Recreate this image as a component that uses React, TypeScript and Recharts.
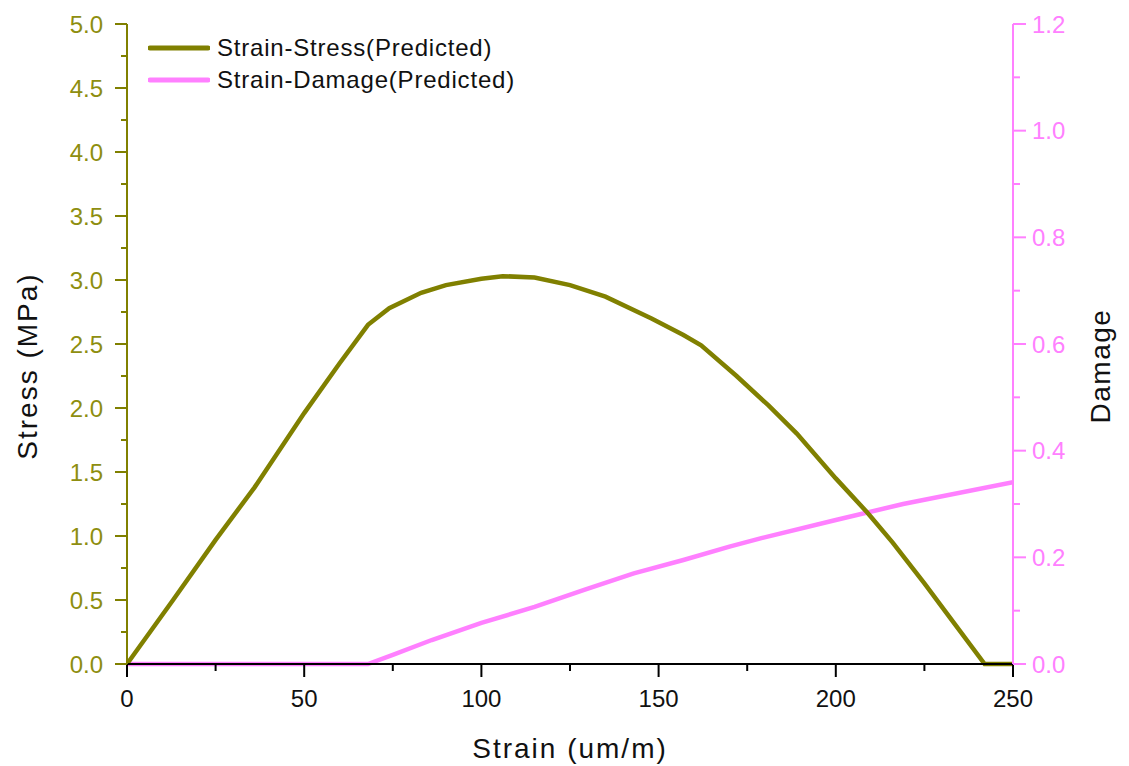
import React from "react";
import { LineChart, Line, XAxis, YAxis, Legend } from "recharts";

// ---- data ----
const stressStrain = [0, 13, 25, 36, 50, 60, 68, 74, 83, 90, 100, 106, 115, 125, 135, 148, 157, 162, 172, 181, 189, 200, 209, 216, 225, 232, 242, 250];
const stressValues = [0, 0.5, 0.97, 1.38, 1.96, 2.35, 2.65, 2.78, 2.9, 2.96, 3.01, 3.03, 3.02, 2.96, 2.87, 2.7, 2.57, 2.49, 2.25, 2.02, 1.8, 1.45, 1.18, 0.95, 0.63, 0.37, 0, 0];

const damageStrain = [0, 68, 75, 86, 100, 115, 129, 143, 157, 170, 179, 200, 219, 250];
const damageValues = [0, 0, 0.017, 0.045, 0.077, 0.107, 0.139, 0.17, 0.195, 0.22, 0.236, 0.27, 0.3, 0.341];

const xTicks = [0, 25, 50, 75, 100, 125, 150, 175, 200, 225, 250];
const xLabels = ["0", "", "50", "", "100", "", "150", "", "200", "", "250"];
const stressTicks = [0, 0.25, 0.5, 0.75, 1, 1.25, 1.5, 1.75, 2, 2.25, 2.5, 2.75, 3, 3.25, 3.5, 3.75, 4, 4.25, 4.5, 4.75, 5];
const stressLabels = ["0.0", "", "0.5", "", "1.0", "", "1.5", "", "2.0", "", "2.5", "", "3.0", "", "3.5", "", "4.0", "", "4.5", "", "5.0"];
const damageTicks = [0, 0.1, 0.2, 0.3, 0.4, 0.5, 0.6, 0.7, 0.8, 0.9, 1.0, 1.1, 1.2];
const damageLabels = ["0.0", "", "0.2", "", "0.4", "", "0.6", "", "0.8", "", "1.0", "", "1.2"];

const seriesNames = ["Strain-Stress(Predicted)", "Strain-Damage(Predicted)"];

const stressData = stressStrain.map((s, i) => ({ strain: s, stress: stressValues[i] }));
const damageData = damageStrain.map((s, i) => ({ strain: s, damage: damageValues[i] }));

const OLIVE = "#808000";
const OLIVE_TEXT = "#8E8E10";
const PINK = "#FF80FF";
const seriesColors = [OLIVE, PINK];
const FONT = "'Liberation Sans', Arial, sans-serif";

const labelFor = (ticks: number[], labels: string[], v: number) => {
  const i = ticks.findIndex((t) => Math.abs(t - v) < 1e-9);
  return i >= 0 ? labels[i] : "";
};

const LeftTick = (props: any) => {
  const { x, y, payload } = props;
  const lab = labelFor(stressTicks, stressLabels, payload.value);
  const len = lab ? 12 : 6;
  return (
    <g>
      <line x1={x - len} x2={x} y1={y} y2={y} stroke={OLIVE} strokeWidth={2} />
      {lab && (
        <text x={x - 24} y={y} textAnchor="end" dominantBaseline="central" fill={OLIVE_TEXT} fontSize={24} fontFamily={FONT}>
          {lab}
        </text>
      )}
    </g>
  );
};

const RightTick = (props: any) => {
  const { x, y, payload } = props;
  const lab = labelFor(damageTicks, damageLabels, payload.value);
  const len = lab ? 13 : 7;
  return (
    <g>
      <line x1={x} x2={x + len} y1={y} y2={y} stroke={PINK} strokeWidth={2} />
      {lab && (
        <text x={x + 19} y={y} textAnchor="start" dominantBaseline="central" fill={PINK} fontSize={24} fontFamily={FONT}>
          {lab}
        </text>
      )}
    </g>
  );
};

const BottomTick = (props: any) => {
  const { x, y, payload } = props;
  const lab = labelFor(xTicks, xLabels, payload.value);
  const len = lab ? 13 : 7;
  return (
    <g>
      <line x1={x} x2={x} y1={y} y2={y + len} stroke="#000" strokeWidth={2} />
      {lab && (
        <text x={x} y={y + 34} textAnchor="middle" dominantBaseline="central" fill="#111" fontSize={24} fontFamily={FONT}>
          {lab}
        </text>
      )}
    </g>
  );
};

const LegendContent = () => {
  return (
    <div style={{ fontFamily: FONT }}>
      {seriesNames.map((name, i) => (
        <div key={i} style={{ display: "flex", alignItems: "center", height: 32 }}>
          <svg width={62} height={8} style={{ display: "block" }}>
            <line x1={2} x2={60} y1={4} y2={4} stroke={seriesColors[i]} strokeWidth={5} strokeLinecap="round" />
          </svg>
          <span style={{ marginLeft: 7, fontSize: 24, letterSpacing: 0.8, color: "#111", whiteSpace: "nowrap" }}>{name}</span>
        </div>
      ))}
    </div>
  );
};

export default function App() {
  return (
    <div style={{ width: 1113, height: 758, background: "#fff" }}>
      <LineChart width={1113} height={758} margin={{ top: 16, right: 0, bottom: 8, left: 0 }}>
        <XAxis
          type="number"
          dataKey="strain"
          domain={[0, 250]}
          ticks={xTicks}
          interval={0}
          height={94}
          tickSize={0}
          tickMargin={0}
          tickLine={false}
          axisLine={{ stroke: "#000", strokeWidth: 2 }}
          tick={<BottomTick />}
          allowDataOverflow
        />
        <YAxis
          yAxisId="left"
          orientation="left"
          type="number"
          domain={[0, 5]}
          ticks={stressTicks}
          interval={0}
          width={119}
          tickSize={0}
          tickMargin={0}
          tickLine={false}
          axisLine={{ stroke: OLIVE, strokeWidth: 2 }}
          tick={<LeftTick />}
        />
        <YAxis
          yAxisId="right"
          orientation="right"
          type="number"
          domain={[0, 1.2]}
          ticks={damageTicks}
          interval={0}
          width={108}
          tickSize={0}
          tickMargin={0}
          tickLine={false}
          axisLine={{ stroke: PINK, strokeWidth: 2 }}
          tick={<RightTick />}
        />
        <Line
          yAxisId="right"
          data={damageData}
          dataKey="damage"
          name={seriesNames[1]}
          type="linear"
          stroke={PINK}
          strokeWidth={4.5}
          dot={false}
          activeDot={false}
          isAnimationActive={false}
        />
        <Line
          yAxisId="left"
          data={stressData}
          dataKey="stress"
          name={seriesNames[0]}
          type="linear"
          stroke={OLIVE}
          strokeWidth={4.5}
          dot={false}
          activeDot={false}
          isAnimationActive={false}
        />
        <Legend
          layout="vertical"
          align="center"
          verticalAlign="middle"
          content={<LegendContent />}
          wrapperStyle={{ position: "absolute", top: 24, left: 140, width: 420, height: 64 }}
        />
        <text x={562} y={740} textAnchor="middle" dominantBaseline="central" fontSize={28} letterSpacing={2} fontFamily={FONT} fill="#111">
          Strain (um/m)
        </text>
        <text x={19} y={358} textAnchor="middle" dominantBaseline="central" fontSize={28} letterSpacing={2} fontFamily={FONT} fill="#111" transform="rotate(-90 19 358)">
          Stress (MPa)
        </text>
        <text x={1092} y={358} textAnchor="middle" dominantBaseline="central" fontSize={28} letterSpacing={1.5} fontFamily={FONT} fill="#111" transform="rotate(-90 1092 358)">
          Damage
        </text>
      </LineChart>
    </div>
  );
}
